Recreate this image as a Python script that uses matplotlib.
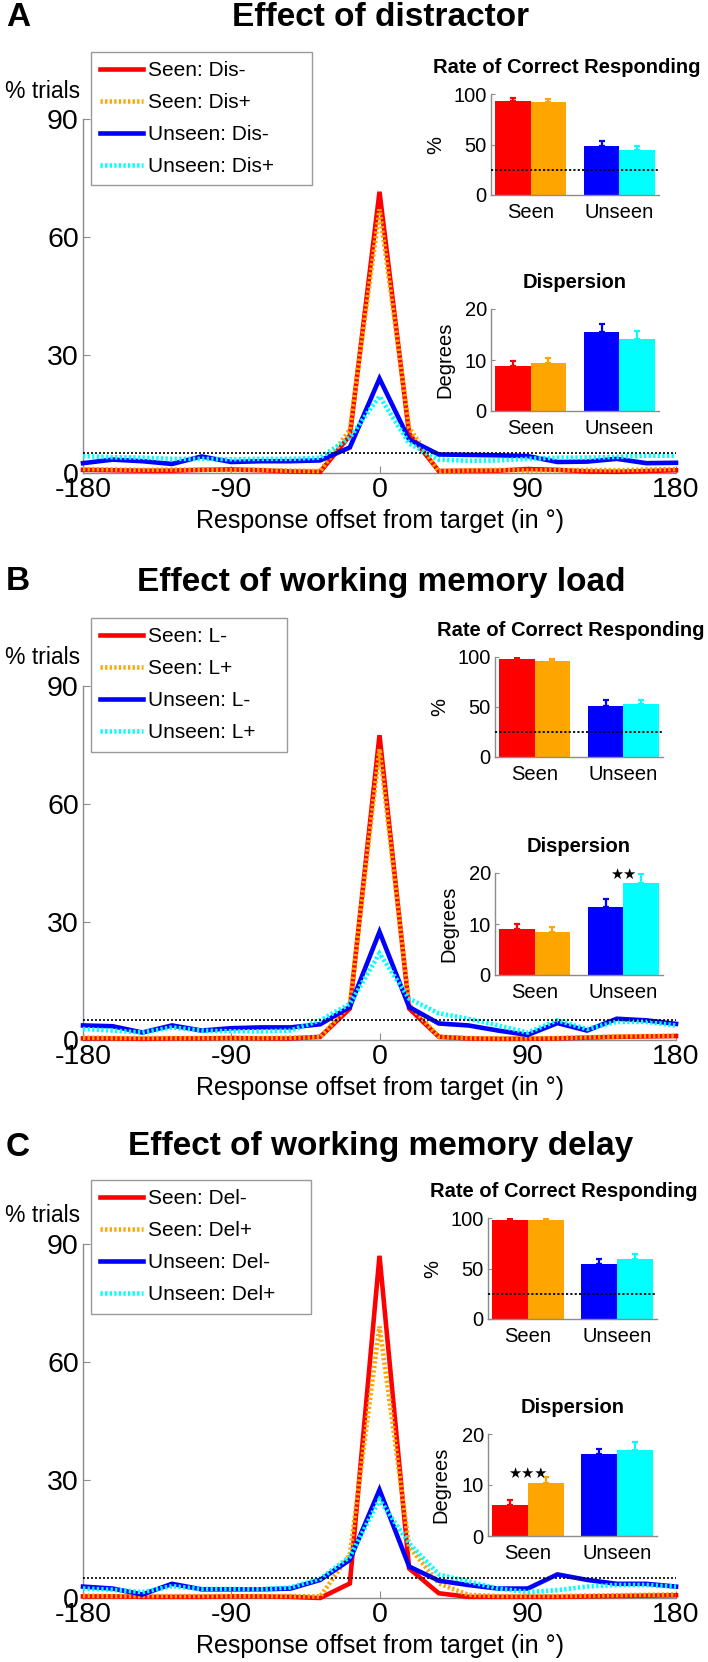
import matplotlib
matplotlib.use("Agg")
import matplotlib.pyplot as plt

plt.rcParams['font.family'] = ['Liberation Sans', 'DejaVu Sans']
plt.rcParams['axes.unicode_minus'] = False

# ---------------- data ----------------
offsets = [-180, -162, -144, -126, -108, -90, -72, -54, -36, -18, 0,
           18, 36, 54, 72, 90, 108, 126, 144, 162, 180]

panel_letters = ["A", "B", "C"]
panel_titles = ["Effect of distractor", "Effect of working memory load",
                "Effect of working memory delay"]
legend_labels_A = ["Seen: Dis-", "Seen: Dis+", "Unseen: Dis-", "Unseen: Dis+"]
legend_labels_B = ["Seen: L-", "Seen: L+", "Unseen: L-", "Unseen: L+"]
legend_labels_C = ["Seen: Del-", "Seen: Del+", "Unseen: Del-", "Unseen: Del+"]

# % trials per offset bin
seen_minus_A = [0.8, 0.7, 0.6, 0.6, 0.8, 0.9, 0.7, 0.4, 0.3, 9.5, 71.5,
                10.0, 0.5, 0.6, 0.6, 1.0, 0.8, 0.4, 0.3, 0.5, 0.7]
seen_plus_A = [1.0, 0.9, 0.8, 0.9, 0.8, 0.7, 0.8, 0.6, 0.5, 11.0, 67.0,
               11.5, 0.4, 0.7, 0.8, 0.6, 0.7, 0.8, 0.7, 0.9, 1.0]
unseen_minus_A = [2.5, 3.4, 3.0, 2.3, 4.2, 2.8, 3.0, 3.0, 3.2, 6.5, 24.0,
                  8.5, 4.7, 4.6, 4.5, 4.3, 2.8, 2.9, 3.6, 2.5, 2.6]
unseen_plus_A = [4.3, 4.0, 3.9, 3.6, 3.6, 3.5, 3.6, 3.6, 3.9, 9.0, 19.5,
                 7.5, 3.4, 3.1, 3.2, 3.6, 3.9, 3.9, 4.1, 4.4, 4.4]

seen_minus_B = [0.4, 0.4, 0.3, 0.4, 0.4, 0.5, 0.4, 0.4, 0.8, 8.0, 77.5,
                8.0, 0.8, 0.4, 0.3, 0.3, 0.4, 0.6, 0.8, 0.9, 1.0]
seen_plus_B = [0.6, 0.5, 0.5, 0.5, 0.5, 0.5, 0.5, 0.6, 0.7, 9.0, 74.0,
               9.0, 0.8, 0.5, 0.4, 0.4, 0.5, 0.7, 0.9, 1.0, 1.1]
unseen_minus_B = [3.7, 3.5, 1.9, 3.7, 2.4, 3.0, 3.2, 3.2, 4.0, 8.4, 27.5,
                  8.4, 4.2, 3.7, 2.4, 1.3, 4.3, 2.4, 5.4, 5.0, 4.1]
unseen_plus_B = [2.8, 2.4, 1.9, 3.2, 2.4, 2.2, 2.2, 2.4, 5.0, 9.2, 22.0,
                 10.5, 6.8, 5.4, 3.7, 1.9, 5.0, 2.8, 4.6, 4.6, 3.7]

seen_minus_C = [0.4, 0.4, 0.3, 0.3, 0.3, 0.4, 0.4, 0.3, 0.0, 3.7, 87.0,
                7.5, 1.2, 0.3, 0.3, 0.3, 0.3, 0.4, 0.5, 0.6, 0.7]
seen_plus_C = [0.6, 0.5, 0.5, 0.5, 0.5, 0.5, 0.5, 0.5, 0.4, 11.0, 69.0,
               13.0, 3.7, 0.8, 0.5, 0.5, 0.5, 0.6, 0.7, 0.8, 0.9]
unseen_minus_C = [2.9, 2.4, 0.9, 3.6, 2.2, 2.2, 2.2, 2.4, 4.6, 9.7, 27.5,
                  8.0, 4.4, 3.3, 2.4, 2.4, 6.0, 4.6, 3.6, 3.6, 2.9]
unseen_plus_C = [2.4, 2.1, 1.5, 3.0, 2.3, 2.3, 2.2, 2.7, 4.9, 10.5, 25.0,
                 13.9, 6.0, 4.2, 2.4, 1.5, 2.0, 2.9, 3.3, 3.3, 2.9]

chance_trials = 5
chance_correct = 25

group_labels = ["Seen", "Unseen"]

# bar insets: order Seen-, Seen+, Unseen-, Unseen+
correct_A = [93.4, 91.8, 48.7, 44.4]
correct_err_A = [2.6, 3.0, 4.6, 4.6]
disp_A = [8.85, 9.44, 15.5, 14.2]
disp_err_A = [1.0, 1.0, 1.5, 1.4]

correct_B = [98.0, 95.7, 51.3, 53.3]
correct_err_B = [1.5, 2.3, 5.4, 3.4]
disp_B = [9.0, 8.5, 13.3, 18.1]
disp_err_B = [1.0, 1.0, 1.7, 1.7]

correct_C = [97.7, 97.7, 54.8, 59.4]
correct_err_C = [1.3, 2.0, 4.6, 4.6]
disp_C = [6.0, 10.4, 16.0, 16.8]
disp_err_C = [1.0, 1.1, 1.1, 1.6]

stars_B = "★★"
stars_C = "★★★"

# ---------------- styling / layout ----------------
W, H = 708, 1662
fig = plt.figure(figsize=(W / 100, H / 100), dpi=100)
fig.patch.set_facecolor("white")

colors = ["#FF0000", "#FFA500", "#0000FF", "#00FFFF"]
styles = ["-", (0, (0.5, 0.5)), "-", (0, (0.5, 0.5))]
GRAY = "#8c8c8c"


def frac(l, t, r, b):
    return [l / W, 1 - b / H, (r - l) / W, (b - t) / H]


panels = [
    dict(series=[seen_minus_A, seen_plus_A, unseen_minus_A, unseen_plus_A],
         labels=legend_labels_A, correct=correct_A, correct_err=correct_err_A,
         disp=disp_A, disp_err=disp_err_A, stars=None,
         top=119, bottom=473, title_y=17, leg=(91, 52, 312),
         ins_x=(491, 659), rate=(94, 195), dsp=(309, 411)),
    dict(series=[seen_minus_B, seen_plus_B, unseen_minus_B, unseen_plus_B],
         labels=legend_labels_B, correct=correct_B, correct_err=correct_err_B,
         disp=disp_B, disp_err=disp_err_B, stars=(stars_B, 2.0, 19.8),
         top=686, bottom=1040, title_y=582, leg=(91, 618, 287),
         ins_x=(495, 663), rate=(657, 757), dsp=(873, 975)),
    dict(series=[seen_minus_C, seen_plus_C, unseen_minus_C, unseen_plus_C],
         labels=legend_labels_C, correct=correct_C, correct_err=correct_err_C,
         disp=disp_C, disp_err=disp_err_C, stars=(stars_C, 1.0, 12.3),
         top=1244, bottom=1598, title_y=1147, leg=(91, 1180, 311),
         ins_x=(488, 657), rate=(1218, 1319), dsp=(1434, 1536)),
]

bar_pos = [0.8, 1.2, 1.8, 2.2]


def style_axes(ax):
    for s in ["top", "right"]:
        ax.spines[s].set_visible(False)
    for s in ["left", "bottom"]:
        ax.spines[s].set_color(GRAY)
        ax.spines[s].set_linewidth(1.0)


def inset(ax, vals, errs, ylim, yticks, chance, ylabel, title, title_x, label_x):
    for x, v, e, c in zip(bar_pos, vals, errs, colors):
        ax.bar(x, v, width=0.4, color=c, linewidth=0, zorder=2)
        ax.errorbar(x, v, yerr=[[0], [e]], fmt="none", ecolor=c,
                    elinewidth=1.6, capsize=2.5, capthick=1.6, zorder=3)
    ax.set_xlim(0.555, 2.445)
    ax.set_ylim(*ylim)
    ax.set_yticks(yticks)
    ax.set_xticks([1, 2])
    ax.set_xticklabels(group_labels)
    style_axes(ax)
    ax.tick_params(axis="x", length=0, pad=6, labelsize=14.5)
    ax.tick_params(axis="y", direction="in", length=3, color=GRAY, pad=3,
                   labelsize=14.5)
    if chance is not None:
        ax.axhline(chance, color="black", lw=1.3, ls=(0, (1.2, 1.2)), zorder=4)
    ax.set_ylabel(ylabel, fontsize=14.5)
    ax.yaxis.set_label_coords(label_x, 0.5)
    ax.set_title(title, fontsize=14.5, fontweight="bold", pad=15, x=title_x)


for i, p in enumerate(panels):
    ax = fig.add_axes(frac(83, p["top"], 676, p["bottom"]))
    for ys, c, ls, lab in zip(p["series"], colors, styles, p["labels"]):
        ax.plot(offsets, ys, color=c, lw=3.3, linestyle=ls, label=lab,
                solid_joinstyle="miter", dash_joinstyle="miter",
                dash_capstyle="butt", clip_on=False, zorder=3)
    ax.axhline(chance_trials, color="black", lw=1.2, ls=(0, (1.2, 1.2)),
               zorder=4)
    ax.set_xlim(-180, 180)
    ax.set_ylim(0, 90)
    ax.set_xticks([-180, -90, 0, 90, 180])
    ax.set_yticks([0, 30, 60, 90])
    style_axes(ax)
    ax.tick_params(direction="in", length=5, color=GRAY, labelsize=20.5)
    ax.tick_params(axis="x", pad=3)
    ax.tick_params(axis="y", pad=3)
    ax.set_xlabel("Response offset from target (in °)", fontsize=18,
                  labelpad=4)

    l, t, r = p["leg"]
    leg = ax.legend(loc="upper left",
                    bbox_to_anchor=(l / W, 1 - (t + 145) / H, (r - l) / W, 145 / H),
                    bbox_transform=fig.transFigure, mode="expand",
                    borderaxespad=0, fancybox=False, edgecolor="#999999",
                    framealpha=1, fontsize=15, handlelength=2.05,
                    handletextpad=0.25, labelspacing=0.62, borderpad=0.45)
    leg.get_frame().set_linewidth(1.0)
    for line in leg.get_lines():
        line.set_linewidth(3.3)

    fig.text(80 / W, 1 - (p["top"] - 28) / H, "% trials", fontsize=16.5,
             ha="right", va="center")
    fig.text(6 / W, 1 - p["title_y"] / H, panel_letters[i], fontsize=24,
             fontweight="bold", ha="left", va="center")
    fig.text(381 / W, 1 - p["title_y"] / H, panel_titles[i], fontsize=24,
             fontweight="bold", ha="center", va="center")

    x0, x1 = p["ins_x"]
    ax_r = fig.add_axes(frac(x0, p["rate"][0], x1, p["rate"][1]))
    inset(ax_r, p["correct"], p["correct_err"], (0, 100), [0, 50, 100],
          chance_correct, "%", "Rate of Correct Responding", 0.45, -0.27)
    ax_d = fig.add_axes(frac(x0, p["dsp"][0], x1, p["dsp"][1]))
    inset(ax_d, p["disp"], p["disp_err"], (0, 20), [0, 10, 20],
          None, "Degrees", "Dispersion", 0.5, -0.22)
    if p["stars"] is not None:
        s, sx, sy = p["stars"]
        ax_d.text(sx, sy, s, fontsize=10.5, ha="center", va="center",
                  family=["DejaVu Sans"], clip_on=False)

fig.savefig("out.png", dpi=100, facecolor="white")
